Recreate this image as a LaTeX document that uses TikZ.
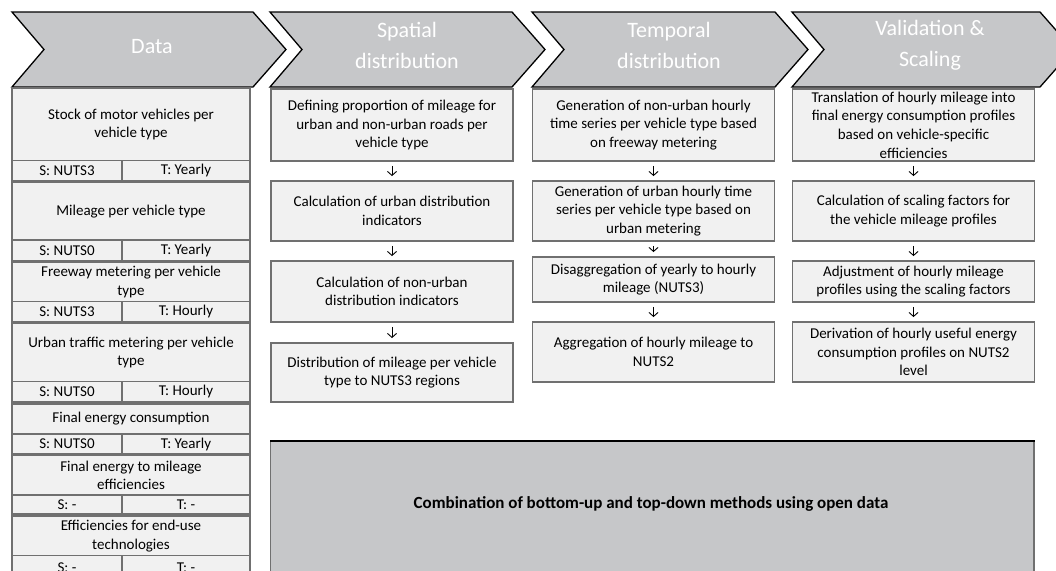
\documentclass[tikz,border=0pt]{standalone}
\usepackage{fontspec}
\setmainfont{Carlito}
\usetikzlibrary{arrows.meta}
\definecolor{chev}{HTML}{C6C7C9}
\definecolor{boxfill}{HTML}{F1F1F1}
\definecolor{boxline}{HTML}{707070}
\newcommand\dblock[7]{%
  \node[dataup, minimum height={#3-#2}] (#1) at (131,{(#2+#3)/2}) {#5};
  \node[datarow, minimum width=110, minimum height={#4-#3}] (#1s) at (67,{(#3+#4)/2}) {#6};
  \node[datarow, minimum width=128, minimum height={#4-#3}] (#1t) at (186,{(#3+#4)/2}) {#7};
  \draw[boxline, line width=1.9pt] (12,#2) rectangle (250,#4);
}
\begin{document}
\begin{tikzpicture}[x=1pt,y=-1pt,
  chevron/.style={fill=chev,draw=black,line width=1.3pt,line join=miter},
  chevtext/.style={text=white,font=\fontsize{22}{31}\selectfont,align=center,inner sep=0pt},
  stepbox/.style={draw=boxline,fill=boxfill,line width=1.9pt,align=center,
    font=\fontsize{15}{18.6}\selectfont,inner sep=0pt,minimum width=242},
  dataup/.style={draw=boxline,fill=boxfill,line width=1.2pt,align=center,
    font=\fontsize{15}{18.6}\selectfont,inner sep=0pt,minimum width=238},
  datarow/.style={draw=boxline,fill=boxfill,line width=1.2pt,
    font=\fontsize{15}{18.6}\selectfont,inner sep=0pt},
  downarrow/.style={-{Straight Barb[length=4pt,width=9pt]},line width=0.9pt,
    shorten <=4pt,shorten >=4pt},
  combotext/.style={font=\fontsize{17}{21}\selectfont\bfseries,inner sep=0pt}
]
\useasboundingbox (0,0) rectangle (1056,570);
\clip (0,0) rectangle (1056,570);

% chevrons
\draw[chevron] (12,12) -- (253,12) -- (286,49.5) -- (253,87) -- (12,87) -- (44,49.5) -- cycle;
\draw[chevron] (270,12) -- (512,12) -- (545,49.5) -- (512,87) -- (270,87) -- (302,49.5) -- cycle;
\draw[chevron] (532,12) -- (775,12) -- (808,49.5) -- (775,87) -- (532,87) -- (564,49.5) -- cycle;
\draw[chevron] (792,12) -- (1040,12) -- (1073,49.5) -- (1040,87) -- (792,87) -- (824,49.5) -- cycle;
\node[chevtext] (h1) at (152,47) {Data};
\node[chevtext] (h2) at (407,45) {Spatial\\distribution};
\node[chevtext] (h3) at (669,45) {Temporal\\distribution};
\node[chevtext] (h4) at (930,45) {Validation \&\\Scaling};

% data column
\dblock{d1}{88}{160.7}{181}{Stock of motor vehicles per\\vehicle type}{S: NUTS3}{T: Yearly}
\dblock{d2}{182.5}{240}{260.7}{Mileage per vehicle type}{S: NUTS0}{T: Yearly}
\dblock{d3}{262.5}{301.7}{322}{Freeway metering per vehicle\\type}{S: NUTS3}{T: Hourly}
\dblock{d4}{323.5}{381.7}{402}{Urban traffic metering per vehicle\\type}{S: NUTS0}{T: Hourly}
\dblock{d5}{404}{434}{454}{Final energy consumption}{S: NUTS0}{T: Yearly}
\dblock{d6}{455.5}{495}{514.3}{Final energy to mileage\\efficiencies}{S: -}{T: -}
\dblock{d7}{516}{555.7}{580}{Efficiencies for end-use\\technologies}{S: -}{T: -}

% spatial
\node[stepbox, minimum height=72] (c2a) at (392,125) {Defining proportion of mileage for\\urban and non-urban roads per\\vehicle type};
\node[stepbox, minimum height=60] (c2b) at (392,211) {Calculation of urban distribution\\indicators};
\node[stepbox, minimum height=61] (c2c) at (392,291.5) {Calculation of non-urban\\distribution indicators};
\node[stepbox, minimum height=59] (c2d) at (392,372.5) {Distribution of mileage per vehicle\\type to NUTS3 regions};
% temporal
\node[stepbox, minimum height=72] (c3a) at (653.5,125) {Generation of non-urban hourly\\time series per vehicle type based\\on freeway metering};
\node[stepbox, minimum height=60] (c3b) at (653.5,211) {Generation of urban hourly time\\series per vehicle type based on\\urban metering};
\node[stepbox, minimum height=45] (c3c) at (653.5,279.5) {Disaggregation of yearly to hourly\\mileage (NUTS3)};
\node[stepbox, minimum height=60] (c3d) at (653.5,352) {Aggregation of hourly mileage to\\NUTS2};
% validation
\node[stepbox, minimum height=72] (c4a) at (913.5,125) {Translation of hourly mileage into\\final energy consumption profiles\\based on vehicle-specific\\efficiencies};
\node[stepbox, minimum height=60] (c4b) at (913.5,211) {Calculation of scaling factors for\\the vehicle mileage profiles};
\node[stepbox, minimum height=41] (c4c) at (913.5,281.5) {Adjustment of hourly mileage\\profiles using the scaling factors};
\node[stepbox, minimum height=60] (c4d) at (913.5,352) {Derivation of hourly useful energy\\consumption profiles on NUTS2\\level};

\foreach \a/\b in {c2a/c2b,c2b/c2c,c2c/c2d,c3a/c3b,c3b/c3c,c3c/c3d,c4a/c4b,c4b/c4c,c4c/c4d}
  \draw[downarrow] (\a) -- (\b);

% combination box
\fill[chev] (270.7,441) rectangle (1034,580);
\draw[boxline, line width=1.5pt] (270.7,441) -- (270.7,580) (1034,441) -- (1034,580);
\draw[black, line width=2pt] (270,441) -- (1035,441);
\node[combotext] (combo) at (651,504) {Combination of bottom-up and top-down methods using open data};
\end{tikzpicture}
\end{document}
